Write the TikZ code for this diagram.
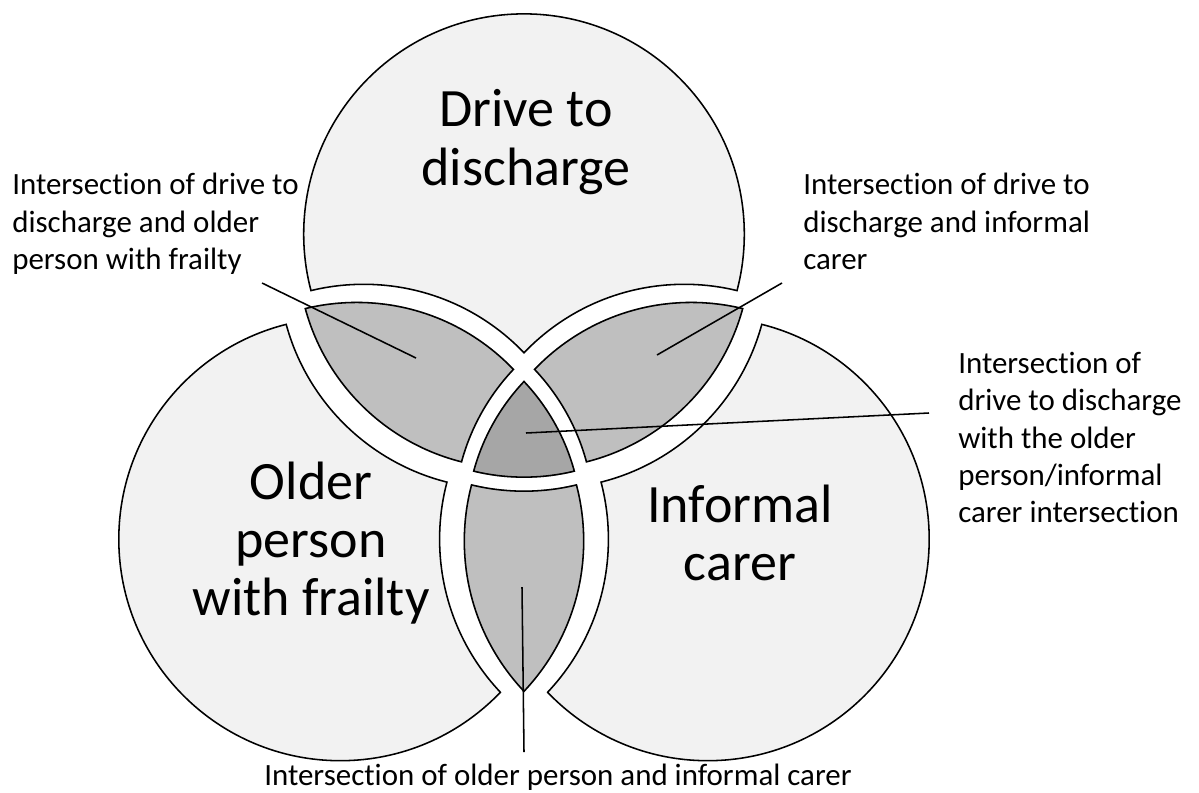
\documentclass[tikz,border=0pt]{standalone}
\usepackage{fontspec}
\setmainfont{Carlito}[Ligatures=NoCommon]

\begin{document}
\begin{tikzpicture}[x=0.025cm,y=-0.025cm]
  % Local definitions
  \def\topcircle{(524,241) circle[radius=239]}
  \def\leftcircle{(350.7,535) circle[radius=239]}
  \def\rightcircle{(697.3,535) circle[radius=239]}
  \def\everything{(-100,-100) rectangle (1300,900)}

  % Colors
  \definecolor{outerfill}{HTML}{F2F2F2}
  \definecolor{lensfill}{HTML}{BFBFBF}
  \definecolor{centerfill}{HTML}{A6A6A6}

  % Styles
  \tikzstyle{piece}=[line width=2.2pt]
  \tikzstyle{leader}=[line width=1.1pt]
  \tikzstyle{small label}=[font=\fontsize{22}{26.5}\selectfont,inner sep=0pt,align=left]
  \tikzstyle{big label}=[font=\fontsize{38.4}{41.5}\selectfont,inner sep=0pt,align=center]

  \useasboundingbox (0,0) rectangle (1199,792);

  % The graphic
  % drive to discharge only
  \begin{scope}[even odd rule,shift={(524,150)},scale=0.925,shift={(-524,-150)}]
    \clip \topcircle;
    \clip \leftcircle \everything;
    \clip \rightcircle \everything;
    \fill[outerfill] \everything;
    \draw[piece] \topcircle \leftcircle \rightcircle;
  \end{scope}

  % older person only
  \begin{scope}[even odd rule,shift={(202,595)},scale=0.93,shift={(-202,-595)}]
    \clip \leftcircle;
    \clip \topcircle \everything;
    \clip \rightcircle \everything;
    \fill[outerfill] \everything;
    \draw[piece] \topcircle \leftcircle \rightcircle;
  \end{scope}

  % informal carer only
  \begin{scope}[even odd rule,shift={(846,595)},scale=0.93,shift={(-846,-595)}]
    \clip \rightcircle;
    \clip \topcircle \everything;
    \clip \leftcircle \everything;
    \fill[outerfill] \everything;
    \draw[piece] \topcircle \leftcircle \rightcircle;
  \end{scope}

  % lenses
  \begin{scope}[even odd rule,shift={(418,359)},scale=0.91,shift={(-418,-359)}]
    \clip \topcircle;
    \clip \leftcircle;
    \clip \rightcircle \everything;
    \fill[lensfill] \everything;
    \draw[piece] \topcircle \leftcircle \rightcircle;
  \end{scope}

  \begin{scope}[even odd rule,shift={(630,359)},scale=0.91,shift={(-630,-359)}]
    \clip \topcircle;
    \clip \rightcircle;
    \clip \leftcircle \everything;
    \fill[lensfill] \everything;
    \draw[piece] \topcircle \leftcircle \rightcircle;
  \end{scope}

  \begin{scope}[even odd rule,shift={(524,610)},scale=0.92,shift={(-524,-610)}]
    \clip \leftcircle;
    \clip \rightcircle;
    \clip \topcircle \everything;
    \fill[lensfill] \everything;
    \draw[piece] \topcircle \leftcircle \rightcircle;
  \end{scope}

  % all three
  \begin{scope}[shift={(524,461)},scale=0.89,shift={(-524,-461)}]
    \clip \topcircle;
    \clip \leftcircle;
    \clip \rightcircle;
    \fill[centerfill] \everything;
    \draw[piece] \topcircle \leftcircle \rightcircle;
  \end{scope}

  % Labels
  \node[big label] (drive) at (526,142) {Drive to\\discharge};
  \node[big label] (older) at (311,543) {Older\\person\\with frailty};
  \node[big label] (carer) at (740,533) {Informal\\carer};

  \node[small label,anchor=north west] (tl text) at (12,173)
    {Intersection of drive to\\discharge and older\\person with frailty};
  \node[small label,anchor=north west] (tr text) at (803,173)
    {Intersection of drive to\\discharge and informal\\carer};
  \node[small label,anchor=north west] (mid text) at (958,352)
    {Intersection of\\drive to discharge\\with the older\\person/informal\\carer intersection};
  \node[small label,anchor=north] (low text) at (558,764)
    {Intersection of older person and informal carer};

  % Lines
  \coordinate (tl from) at (262,283);
  \coordinate (tl to) at (416,358);
  \coordinate (tr from) at (782,283);
  \coordinate (tr to) at (657,355);
  \coordinate (mid from) at (929,413);
  \coordinate (mid to) at (526,433);
  \coordinate (low from) at (524,752);
  \coordinate (low to) at (522,587);

  \draw[leader] (tl from) -- (tl to);
  \draw[leader] (tr from) -- (tr to);
  \draw[leader] (mid from) -- (mid to);
  \draw[leader] (low from) -- (low to);
\end{tikzpicture}
\end{document}
